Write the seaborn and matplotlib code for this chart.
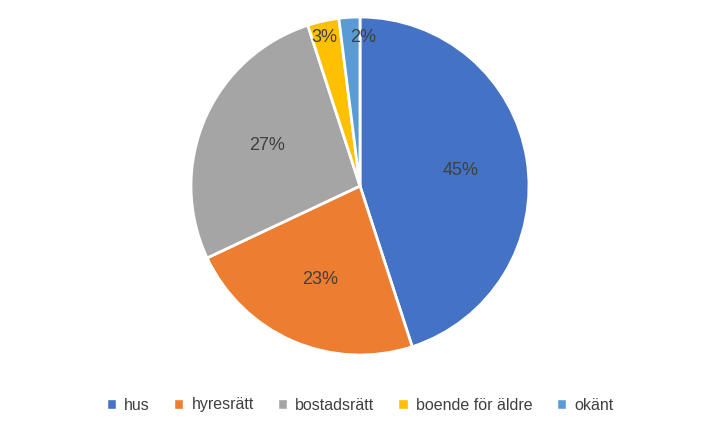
import matplotlib
matplotlib.use("Agg")
import matplotlib.pyplot as plt
import seaborn as sns
from matplotlib.patches import Patch

categories = ["hus", "hyresrätt", "bostadsrätt", "boende för äldre", "okänt"]
values = [45, 23, 27, 3, 2]
colors = ["#4472C4", "#ED7D31", "#A5A5A5", "#FFC000", "#5B9BD5"]

sns.set_style("white")
plt.rcParams["font.family"] = "Liberation Sans"
fig = plt.figure(figsize=(7.2, 4.28), dpi=100)
ax = fig.add_axes([0.5 - 169/720, 1 - (186+169)/428, 338/720, 338/428])
wedges, texts, autotexts = ax.pie(values, colors=colors, startangle=90, counterclock=False,
       autopct="%d%%", pctdistance=0.6,
       wedgeprops=dict(edgecolor="white", linewidth=2),
       textprops=dict(fontsize=13, color="#404040"))
ax.set_xlim(-1, 1)
ax.set_ylim(-1, 1)
autotexts[3].set_position((-0.21, 0.88))
autotexts[4].set_position((0.02, 0.88))
ax.set_aspect("equal")
handles = [Patch(facecolor=c) for c in colors]
fig.legend(handles, categories, loc="center", bbox_to_anchor=(0.5, 1 - 405/428), ncol=5,
           frameon=False, fontsize=11.5, handlelength=0.6, handleheight=0.6,
           columnspacing=1.5, handletextpad=0.5, labelcolor="#404040")
fig.savefig("out.png", dpi=100)
